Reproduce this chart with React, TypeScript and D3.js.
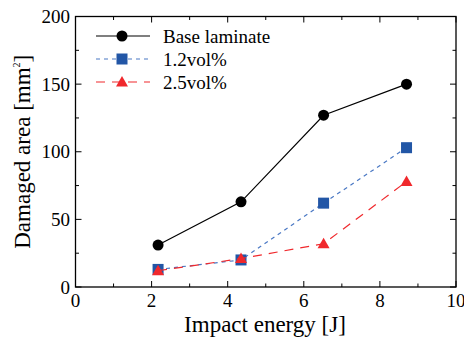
import * as d3 from "d3";

const energy = [2.17, 4.35, 6.52, 8.7];
const baseLaminate = [31, 63, 127, 150];
const vol12 = [13, 20, 62, 103];
const vol25 = [12, 21, 32, 78];
const xTicks = [0, 2, 4, 6, 8, 10];
const yTicks = [0, 50, 100, 150, 200];

const W = 464;
const H = 342;
const m = { left: 75.5, right: 456, top: 16.5, bottom: 287 };

export default function App() {
  const x = d3.scaleLinear().domain([0, 10]).range([m.left, m.right]);
  const y = d3.scaleLinear().domain([0, 200]).range([m.bottom, m.top]);
  const line = d3
    .line<[number, number]>()
    .x((d) => x(d[0]))
    .y((d) => y(d[1]));

  const series = [
    { name: "Base laminate", values: baseLaminate, stroke: "#000", fill: "#000", dash: "", marker: "circle" },
    { name: "1.2vol%", values: vol12, stroke: "#4a78c4", fill: "#2256a6", dash: "4,4", marker: "square" },
    { name: "2.5vol%", values: vol25, stroke: "#f0282c", fill: "#f0282c", dash: "9,7", marker: "triangle" },
  ];

  const marker = (type: string, cx: number, cy: number, fill: string, key: string) => {
    if (type === "circle") return <circle key={key} cx={cx} cy={cy} r={5.5} fill={fill} />;
    if (type === "square")
      return <rect key={key} x={cx - 5.5} y={cy - 5.5} width={11} height={11} fill={fill} />;
    return (
      <path
        key={key}
        d={`M${cx},${cy - 6} L${cx + 6},${cy + 4.5} L${cx - 6},${cy + 4.5} Z`}
        fill={fill}
      />
    );
  };

  const minorX = d3.range(1, 10, 2);
  const minorY = d3.range(25, 200, 50);
  const font = "Liberation Serif";

  return (
    <svg
      width={W}
      height={H}
      style={{ position: "absolute", left: 0, top: 0, background: "#fff", fontFamily: font }}
    >
      {/* frame */}
      <rect
        x={m.left}
        y={m.top}
        width={m.right - m.left}
        height={m.bottom - m.top}
        fill="none"
        stroke="#000"
        strokeWidth={1.3}
      />
      {/* x ticks */}
      {xTicks.map((t) => (
        <g key={"xt" + t}>
          <line x1={x(t)} x2={x(t)} y1={m.bottom} y2={m.bottom - 6} stroke="#000" />
          <line x1={x(t)} x2={x(t)} y1={m.top} y2={m.top + 6} stroke="#000" />
          <text x={x(t)} y={307} fontSize={19} textAnchor="middle" style={{ fontFamily: font }}>
            {t}
          </text>
        </g>
      ))}
      {minorX.map((t) => (
        <g key={"xm" + t}>
          <line x1={x(t)} x2={x(t)} y1={m.bottom} y2={m.bottom - 3.5} stroke="#000" />
          <line x1={x(t)} x2={x(t)} y1={m.top} y2={m.top + 3.5} stroke="#000" />
        </g>
      ))}
      {/* y ticks */}
      {yTicks.map((t) => (
        <g key={"yt" + t}>
          <line x1={m.left} x2={m.left + 6} y1={y(t)} y2={y(t)} stroke="#000" />
          <line x1={m.right} x2={m.right - 6} y1={y(t)} y2={y(t)} stroke="#000" />
          <text x={70} y={y(t) + 6.5} fontSize={19} textAnchor="end" style={{ fontFamily: font }}>
            {t}
          </text>
        </g>
      ))}
      {minorY.map((t) => (
        <g key={"ym" + t}>
          <line x1={m.left} x2={m.left + 3.5} y1={y(t)} y2={y(t)} stroke="#000" />
          <line x1={m.right} x2={m.right - 3.5} y1={y(t)} y2={y(t)} stroke="#000" />
        </g>
      ))}
      {/* axis titles */}
      <text x={265} y={332} fontSize={23} textAnchor="middle" style={{ fontFamily: font }}>
        Impact energy [J]
      </text>
      <text
        transform={`translate(30,${(m.top + m.bottom) / 2}) rotate(-90)`}
        fontSize={23}
        textAnchor="middle"
        style={{ fontFamily: font }}
      >
        Damaged area [mm<tspan fontSize={10} dy={-10}>2</tspan>
        <tspan dy={10}>]</tspan>
      </text>
      {/* series */}
      {series.map((s) => {
        const pts = energy.map((e, i) => [e, s.values[i]] as [number, number]);
        return (
          <g key={s.name}>
            <path d={line(pts) ?? ""} fill="none" stroke={s.stroke} strokeWidth={1.2} strokeDasharray={s.dash} />
            {pts.map((p, i) => marker(s.marker, x(p[0]), y(p[1]), s.fill, s.name + i))}
          </g>
        );
      })}
      {/* legend */}
      {series.map((s, i) => {
        const ly = 36 + i * 23;
        return (
          <g key={"lg" + s.name}>
            <line x1={96} x2={150} y1={ly} y2={ly} stroke={s.stroke} strokeWidth={1.2} strokeDasharray={s.dash} />
            {marker(s.marker, 122, ly, s.fill, "lm" + i)}
            <text x={163} y={ly + 6.5} fontSize={19} style={{ fontFamily: font }}>
              {s.name}
            </text>
          </g>
        );
      })}
    </svg>
  );
}
